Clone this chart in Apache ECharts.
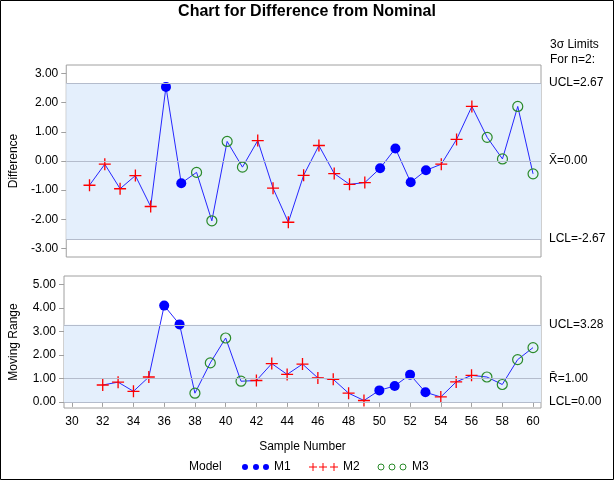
<!DOCTYPE html>
<html><head><meta charset="utf-8">
<script src="https://cdn.jsdelivr.net/npm/echarts@6/dist/echarts.min.js"></script>
<style>html,body{margin:0;padding:0;background:#fff}#c{width:614px;height:480px}</style>
</head><body><div id="c"></div>
<script>
const samples = [31,32,33,34,35,36,37,38,39,40,41,42,43,44,45,46,47,48,49,50,51,52,53,54,55,56,57,58,59,60];
const models = ['M2','M2','M2','M2','M2','M1','M1','M3','M3','M3','M3','M2','M2','M2','M2','M2','M2','M2','M2','M1','M1','M1','M1','M2','M2','M2','M3','M3','M3','M3'];
const difference = [-0.83,-0.11,-0.95,-0.50,-1.56,2.54,-0.76,-0.39,-2.05,0.67,-0.21,0.70,-0.93,-2.10,-0.49,0.53,-0.43,-0.80,-0.74,-0.25,0.43,-0.73,-0.32,-0.11,0.74,1.87,0.81,0.07,1.87,-0.44];
const movingRange = [null,0.72,0.84,0.45,1.06,4.10,3.30,0.37,1.66,2.72,0.88,0.91,1.63,1.17,1.61,1.02,0.96,0.37,0.06,0.49,0.68,1.16,0.41,0.21,0.85,1.13,1.06,0.74,1.80,2.31];
const xTicks = [30,32,34,36,38,40,42,44,46,48,50,52,54,56,58,60];
const diffTicks = [-3,-2,-1,0,1,2,3];
const mrTicks = [0,1,2,3,4,5];
const diffLimits = {ucl: 2.67, center: 0.00, lcl: -2.67};
const mrLimits = {ucl: 3.28, center: 1.00, lcl: 0.00};

const FONT = "'Liberation Sans', Arial, sans-serif";
const PLUS = 'path://M0,4.45H4.45V0H5.55V4.45H10V5.55H5.55V10H4.45V5.55H0Z';
const symStyle = {
  M1: {symbol: 'circle', symbolSize: 10, itemStyle: {color: '#0000FF', borderWidth: 0}},
  M2: {symbol: PLUS, symbolSize: 12, itemStyle: {color: '#FF0000', borderWidth: 0}},
  M3: {symbol: 'circle', symbolSize: 10, itemStyle: {color: 'rgba(0,0,0,0)', borderColor: '#2A8A2A', borderWidth: 1.2}}
};
function pts(vals) {
  const out = [];
  samples.forEach((s, i) => {
    if (vals[i] == null) return;
    const st = symStyle[models[i]];
    out.push({value: [s, vals[i]], symbol: st.symbol, symbolSize: st.symbolSize, itemStyle: st.itemStyle});
  });
  return out;
}
const frame = '#A0A0A0', refCol = '#B4BCCC', band = '#E4EFFC';
function marks(lim, labels) {
  return {
    markArea: {silent: true, itemStyle: {color: band}, data: [[{yAxis: lim.lcl}, {yAxis: lim.ucl}]]},
    markLine: {silent: true, symbol: 'none', lineStyle: {color: refCol, width: 1, type: 'solid'},
      label: {position: 'end', distance: 8, color: '#000', fontSize: 12, fontFamily: FONT},
      data: [
        {yAxis: lim.ucl, label: {formatter: labels[0]}},
        {yAxis: lim.center, label: {formatter: labels[1]}},
        {yAxis: lim.lcl, label: {formatter: labels[2]}}
      ]}
  };
}
const axisTxt = {color: '#000', fontSize: 12, fontFamily: FONT};
const chart = echarts.init(document.getElementById('c'), null, {renderer: 'canvas'});
chart.setOption({
  animation: false,
  backgroundColor: '#fff',
  title: {text: 'Chart for Difference from Nominal', left: 'center', top: -1,
    textStyle: {fontSize: 16, fontWeight: 'bold', color: '#000', fontFamily: FONT}},
  grid: [
    {left: 63, width: 478, top: 65, height: 192, show: true, borderColor: frame, borderWidth: 1, backgroundColor: '#fff'},
    {left: 63, width: 478, top: 276, height: 132, show: true, borderColor: frame, borderWidth: 1, backgroundColor: '#fff'}
  ],
  xAxis: [
    {type: 'value', gridIndex: 0, min: 29.48, max: 60.52, splitLine: {show: false},
      axisLine: {show: false}, axisTick: {show: true, customValues: xTicks, length: 5, lineStyle: {color: frame}},
      axisLabel: {show: false}},
    {type: 'value', gridIndex: 1, min: 29.48, max: 60.52, splitLine: {show: false},
      axisLine: {show: false}, axisTick: {show: true, customValues: xTicks, length: 5, lineStyle: {color: frame}},
      axisLabel: Object.assign({show: true, customValues: xTicks, margin: 8}, axisTxt),
      name: 'Sample Number', nameLocation: 'middle', nameGap: 33, nameTextStyle: axisTxt}
  ],
  yAxis: [
    {type: 'value', gridIndex: 0, min: -3.29, max: 3.29, splitLine: {show: false},
      axisLine: {show: false}, axisTick: {show: true, customValues: diffTicks, length: 5, lineStyle: {color: frame}},
      axisLabel: Object.assign({show: true, customValues: diffTicks, margin: 8, formatter: v => v.toFixed(2)}, axisTxt),
      name: 'Difference', nameLocation: 'middle', nameRotate: 90, nameGap: 44, nameTextStyle: axisTxt},
    {type: 'value', gridIndex: 1, min: -0.26, max: 5.36, splitLine: {show: false},
      axisLine: {show: false}, axisTick: {show: true, customValues: mrTicks, length: 5, lineStyle: {color: frame}},
      axisLabel: Object.assign({show: true, customValues: mrTicks, margin: 8, formatter: v => v.toFixed(2)}, axisTxt),
      name: 'Moving Range', nameLocation: 'middle', nameRotate: 90, nameGap: 44, nameTextStyle: axisTxt}
  ],
  series: [
    Object.assign({type: 'line', xAxisIndex: 0, yAxisIndex: 0, data: pts(difference),
      lineStyle: {color: '#2626FF', width: 1}, showSymbol: true, z: 3},
      marks(diffLimits, ['UCL=2.67', 'X\u0304=0.00', 'LCL=-2.67'])),
    Object.assign({type: 'line', xAxisIndex: 1, yAxisIndex: 1, data: pts(movingRange),
      lineStyle: {color: '#2626FF', width: 1}, showSymbol: true, z: 3},
      marks(mrLimits, ['UCL=3.28', 'R\u0304=1.00', 'LCL=0.00']))
  ],
  graphic: [
    {type: 'rect', shape: {x: 0.5, y: 0.5, width: 613, height: 479}, style: {fill: 'none', stroke: '#000', lineWidth: 1}, z: 100},
    {type: 'text', x: 550, y: 45, style: {text: '3\u03C3 Limits', fill: '#000', font: '12px ' + FONT, verticalAlign: 'middle'}},
    {type: 'text', x: 550, y: 60, style: {text: 'For n=2:', fill: '#000', font: '12px ' + FONT, verticalAlign: 'middle'}},
    {type: 'text', x: 189, y: 467, style: {text: 'Model', fill: '#000', font: '12px ' + FONT, verticalAlign: 'middle'}},
    {type: 'circle', shape: {cx: 245, cy: 467, r: 3}, style: {fill: '#0000FF'}},
    {type: 'circle', shape: {cx: 256, cy: 467, r: 3}, style: {fill: '#0000FF'}},
    {type: 'circle', shape: {cx: 266, cy: 467, r: 3}, style: {fill: '#0000FF'}},
    {type: 'text', x: 274, y: 467, style: {text: 'M1', fill: '#000', font: '12px ' + FONT, verticalAlign: 'middle'}},
    {type: 'polyline', shape: {points: [[309, 467], [317, 467]]}, style: {stroke: '#FF0000', lineWidth: 1}},
    {type: 'polyline', shape: {points: [[313, 463], [313, 471]]}, style: {stroke: '#FF0000', lineWidth: 1}},
    {type: 'polyline', shape: {points: [[319, 467], [327, 467]]}, style: {stroke: '#FF0000', lineWidth: 1}},
    {type: 'polyline', shape: {points: [[323, 463], [323, 471]]}, style: {stroke: '#FF0000', lineWidth: 1}},
    {type: 'polyline', shape: {points: [[330, 467], [338, 467]]}, style: {stroke: '#FF0000', lineWidth: 1}},
    {type: 'polyline', shape: {points: [[334, 463], [334, 471]]}, style: {stroke: '#FF0000', lineWidth: 1}},
    {type: 'text', x: 343, y: 467, style: {text: 'M2', fill: '#000', font: '12px ' + FONT, verticalAlign: 'middle'}},
    {type: 'circle', shape: {cx: 381, cy: 467, r: 3}, style: {fill: 'none', stroke: '#2A8A2A', lineWidth: 1}},
    {type: 'circle', shape: {cx: 392, cy: 467, r: 3}, style: {fill: 'none', stroke: '#2A8A2A', lineWidth: 1}},
    {type: 'circle', shape: {cx: 403, cy: 467, r: 3}, style: {fill: 'none', stroke: '#2A8A2A', lineWidth: 1}},
    {type: 'text', x: 412, y: 467, style: {text: 'M3', fill: '#000', font: '12px ' + FONT, verticalAlign: 'middle'}}
  ]
});
</script></body></html>
